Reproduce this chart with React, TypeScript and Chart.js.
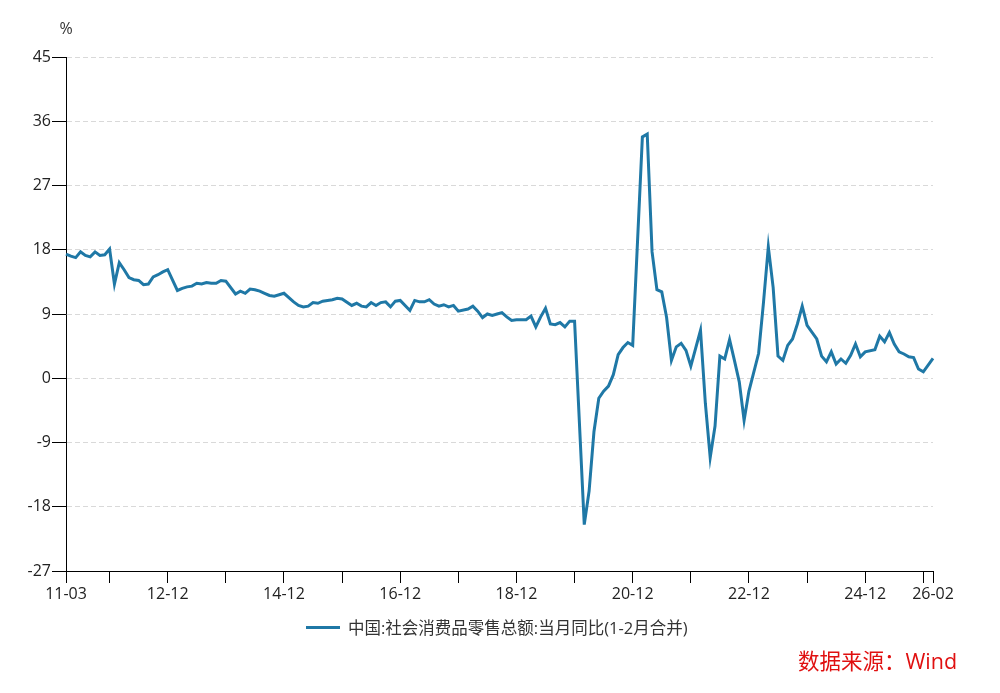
import React, { useEffect, useRef } from "react";
import { Chart, registerables } from "chart.js";

Chart.register(...registerables);

// Monthly values, Jan..Dec (null = no separate January figure)
const v2011 = [null, null, 17.4, 17.1, 16.9, 17.7, 17.2, 17.0, 17.7, 17.2, 17.3, 18.1];
const v2012 = [13.2, 16.2, 15.2, 14.1, 13.8, 13.7, 13.1, 13.2, 14.2, 14.5, 14.9, 15.2];
const v2013 = [null, 12.3, 12.6, 12.8, 12.9, 13.3, 13.2, 13.4, 13.3, 13.3, 13.7, 13.6];
const v2014 = [null, 11.8, 12.2, 11.9, 12.5, 12.4, 12.2, 11.9, 11.6, 11.5, 11.7, 11.9];
const v2015 = [null, 10.7, 10.2, 10.0, 10.1, 10.6, 10.5, 10.8, 10.9, 11.0, 11.2, 11.1];
const v2016 = [null, 10.2, 10.5, 10.1, 10.0, 10.6, 10.2, 10.6, 10.7, 10.0, 10.8, 10.9];
const v2017 = [null, 9.5, 10.9, 10.7, 10.7, 11.0, 10.4, 10.1, 10.3, 10.0, 10.2, 9.4];
const v2018 = [null, 9.7, 10.1, 9.4, 8.5, 9.0, 8.8, 9.0, 9.2, 8.6, 8.1, 8.2];
const v2019 = [null, 8.2, 8.7, 7.2, 8.6, 9.8, 7.6, 7.5, 7.8, 7.2, 8.0, 8.0];
const v2020 = [null, -20.5, -15.8, -7.5, -2.8, -1.8, -1.1, 0.5, 3.3, 4.3, 5.0, 4.6];
const v2021 = [null, 33.8, 34.2, 17.7, 12.4, 12.1, 8.5, 2.5, 4.4, 4.9, 3.9, 1.7];
const v2022 = [null, 6.7, -3.5, -11.1, -6.7, 3.1, 2.7, 5.4, 2.5, -0.5, -5.9, -1.8];
const v2023 = [null, 3.5, 10.6, 18.4, 12.7, 3.1, 2.5, 4.6, 5.5, 7.6, 10.1, 7.4];
const v2024 = [null, 5.5, 3.1, 2.3, 3.7, 2.0, 2.7, 2.1, 3.2, 4.8, 3.0, 3.7];
const v2025 = [null, 4.0, 5.9, 5.1, 6.4, 4.8, 3.7, 3.4, 3.0, 2.9, 1.3, 0.9];
const v2026 = [null, 2.8];

const YEARS = [2011, 2012, 2013, 2014, 2015, 2016, 2017, 2018, 2019, 2020, 2021, 2022, 2023, 2024, 2025, 2026];
const YEAR_VALUES = [v2011, v2012, v2013, v2014, v2015, v2016, v2017, v2018, v2019, v2020, v2021, v2022, v2023, v2024, v2025, v2026];
const FIRST_MONTH = 3; // series starts 2011-03

const Y_TICKS = [-27, -18, -9, 0, 9, 18, 27, 36, 45];
const X_LABELED = ["11-03", "12-12", "14-12", "16-12", "18-12", "20-12", "22-12", "24-12", "26-02"];
const SERIES_NAME = "中国:社会消费品零售总额:当月同比(1-2月合并)";
const UNIT = "%";
const SOURCE = "数据来源：Wind";

const LINE_COLOR = "#1f78a6";
const FONT = "'Open Sans', 'Noto Sans CJK SC', sans-serif";

function buildSeries() {
  const labels: string[] = [];
  const values: (number | null)[] = [];
  YEARS.forEach((y, yi) => {
    YEAR_VALUES[yi].forEach((v, mi) => {
      if (yi === 0 && mi + 1 < FIRST_MONTH) return;
      labels.push(`${String(y % 100).padStart(2, "0")}-${String(mi + 1).padStart(2, "0")}`);
      values.push(v);
    });
  });
  return { labels, values };
}

export default function App() {
  const ref = useRef<HTMLCanvasElement | null>(null);

  useEffect(() => {
    if (!ref.current) return;
    const { labels, values } = buildSeries();
    const lastIdx = labels.length - 1;
    const tickIdx = labels
      .map((l, i) => (i === 0 || i === lastIdx || l.endsWith("-12") ? i : -1))
      .filter((i) => i >= 0);

    const unitPlugin = {
      id: "unitLabel",
      afterDraw(chart: any) {
        const ctx = chart.ctx;
        ctx.save();
        ctx.font = `16px ${FONT}`;
        ctx.fillStyle = "#333";
        ctx.textAlign = "center";
        ctx.textBaseline = "middle";
        ctx.fillText(UNIT, chart.chartArea.left, 29);
        ctx.restore();
      },
    };

    const chart = new Chart(ref.current, {
      type: "line",
      data: {
        labels,
        datasets: [
          {
            label: SERIES_NAME,
            data: values,
            borderColor: LINE_COLOR,
            backgroundColor: LINE_COLOR,
            borderWidth: 3,
            pointRadius: 0,
            tension: 0,
            spanGaps: true,
          },
        ],
      },
      options: {
        responsive: false,
        animation: false,
        devicePixelRatio: 1,
        layout: { padding: { left: 0, top: 57, right: 67, bottom: 82 } },
        plugins: { legend: { display: false }, tooltip: { enabled: false } },
        scales: {
          x: {
            type: "category",
            offset: false,
            afterBuildTicks(scale: any) {
              scale.ticks = tickIdx.map((v) => ({ value: v }));
            },
            afterFit(scale: any) {
              scale.height = 40;
            },
            ticks: {
              autoSkip: false,
              maxRotation: 0,
              padding: 2,
              color: "#222",
              font: { family: FONT, size: 16 },
              callback(this: any, value: any) {
                const l = this.getLabelForValue(value);
                return X_LABELED.includes(l) ? l : "";
              },
            },
            grid: {
              display: true,
              drawOnChartArea: false,
              drawTicks: true,
              tickLength: 12,
              tickColor: "#000",
            },
            border: { display: true, color: "#000", width: 1 },
          },
          y: {
            min: -27,
            max: 45,
            afterBuildTicks(scale: any) {
              scale.ticks = Y_TICKS.map((v) => ({ value: v }));
            },
            afterFit(scale: any) {
              scale.width = 66;
            },
            ticks: {
              padding: 1,
              color: "#222",
              font: { family: FONT, size: 16 },
            },
            grid: {
              color: "#d9d9d9",
              lineWidth: 1,
              drawTicks: true,
              tickLength: 14,
              tickColor: "#000",
            },
            border: { display: true, color: "#000", width: 1, dash: [5, 3] },
          },
        },
      },
      plugins: [unitPlugin],
    });
    return () => chart.destroy();
  }, []);

  return (
    <div style={{ position: "absolute", left: 0, top: 0, width: 1000, height: 693, background: "#fff" }}>
      <canvas ref={ref} width={1000} height={693} style={{ position: "absolute", left: 0, top: 0 }} />
      <div
        style={{
          position: "absolute",
          left: 306,
          top: 616,
          height: 22,
          display: "flex",
          alignItems: "center",
          fontFamily: FONT,
          fontSize: 16.5,
          color: "#333",
          whiteSpace: "nowrap",
        }}
      >
        <span style={{ display: "inline-block", width: 34, height: 3, background: LINE_COLOR, marginRight: 8 }} />
        <span>{SERIES_NAME}</span>
      </div>
      <div
        style={{
          position: "absolute",
          left: 798,
          top: 647,
          fontFamily: FONT,
          fontSize: 21.5,
          color: "#e01010",
          whiteSpace: "nowrap",
          lineHeight: "28px",
        }}
      >
        {SOURCE}
      </div>
    </div>
  );
}
